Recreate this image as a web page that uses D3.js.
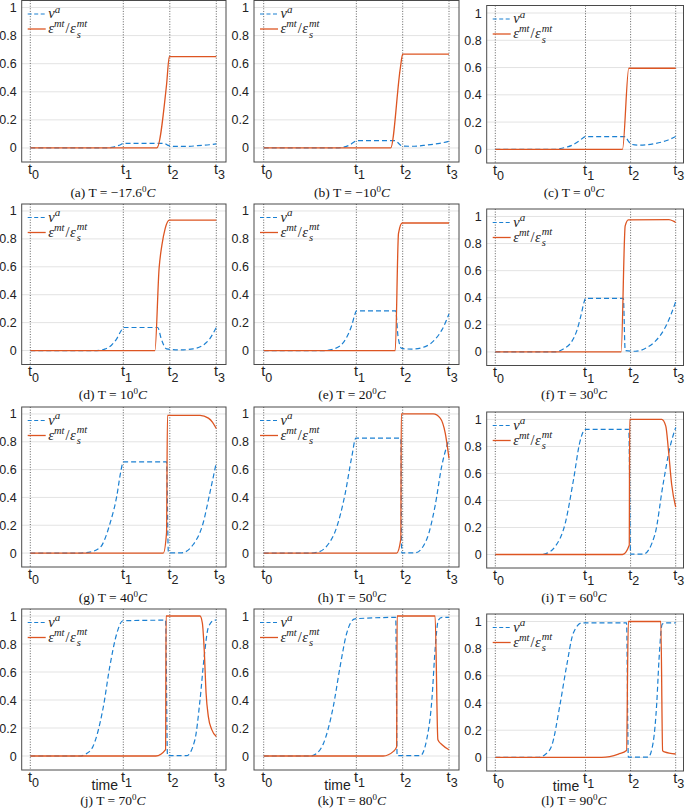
<!DOCTYPE html>
<html>
<head>
<meta charset="utf-8">
<script src="https://cdn.jsdelivr.net/npm/d3@7"></script>
<style>
  body { margin: 0; background: #fff; }
  svg { display: block; }
</style>
</head>
<body>
<div id="chart"></div>
<script>
// panel captions
const letters = ["a", "b", "c", "d", "e", "f", "g", "h", "i", "j", "k", "l"];
const temps = ["\u221217.6", "\u221210", "0", "10", "20", "30", "40", "50", "60", "70", "80", "90"];

// axis ticks
const tTicks = [0, 2, 3, 4];
const tSubs = ["0", "1", "2", "3"];
const yTicks = [0, 0.2, 0.4, 0.6, 0.8, 1];

// nu^a (dashed) and eps_mt / eps_s_mt (solid), as [time, value]
const nuA = [[0,0],[1.6,0],[1.75,0.004],[1.85,0.012],[1.95,0.025],[2,0.033],[2.88,0.033],[2.95,0.02],[3.03,0.012],[3.3,0.011],[3.6,0.016],[3.85,0.023],[4,0.029]];
const epsA = [[0,0],[2.72,0],[2.93,0.45],[2.99,0.65],[4,0.65]];

const nuB = [[0,0],[1.58,0],[1.72,0.006],[1.85,0.02],[1.95,0.042],[2,0.052],[2.85,0.052],[2.92,0.03],[2.99,0.014],[3.2,0.012],[3.5,0.02],[3.8,0.033],[4,0.047]];
const epsB = [[0,0],[2.74,0],[2.95,0.57],[3.0,0.668],[4,0.668]];

const nuC = [[0,0],[1.32,0],[1.5,0.01],[1.7,0.03],[1.85,0.06],[1.95,0.085],[2,0.094],[2.88,0.094],[2.95,0.06],[3.02,0.037],[3.2,0.031],[3.5,0.04],[3.8,0.065],[4,0.094]];
const epsC = [[0,0],[2.82,0],[2.96,0.595],[4,0.595]];

const nuD = [[0,0],[1.43,0],[1.6,0.01],[1.75,0.04],[1.85,0.08],[1.95,0.14],[2,0.165],[2.74,0.165],[2.82,0.08],[2.93,0.012],[3.2,0.004],[3.5,0.012],[3.7,0.035],[3.85,0.08],[4,0.165]];
const epsD = [[0,0],[2.68,0],[2.77,0.59],[2.83,0.755],[2.9,0.874],[2.99,0.935],[4,0.935]];

const nuE = [[0,0],[1.3,0],[1.5,0.01],[1.7,0.05],[1.8,0.1],[1.9,0.18],[1.97,0.26],[2,0.284],[2.85,0.284],[2.9,0.1],[2.98,0.015],[3.2,0.01],[3.5,0.03],[3.7,0.08],[3.85,0.15],[4,0.262]];
const epsE = [[0,0],[2.84,0],[2.91,0.84],[2.99,0.914],[4,0.914]];

const nuF = [[0,0],[1.32,0],[1.5,0.02],[1.7,0.08],[1.8,0.15],[1.9,0.27],[1.97,0.37],[2,0.395],[2.84,0.395],[2.88,0.01],[3.1,0.005],[3.35,0.03],[3.55,0.08],[3.75,0.17],[3.9,0.28],[4,0.371]];
const epsF = [[0,0],[2.79,0],[2.88,0.93],[2.95,0.975],[3.85,0.977],[3.95,0.965],[4,0.955]];

const nuG = [[0,0],[1.0,0],[1.25,0.005],[1.5,0.04],[1.72,0.22],[1.86,0.41],[1.94,0.575],[2,0.655],[2.93,0.655],[2.97,0.002],[3.25,0.002],[3.5,0.06],[3.72,0.22],[3.86,0.43],[4,0.65]];
const epsG = [[0,0],[2.86,0],[2.93,0.146],[2.95,0.99],[3.65,0.99],[3.83,0.97],[3.92,0.94],[4,0.895]];

const nuH = [[0,0],[1.0,0],[1.2,0.01],[1.36,0.05],[1.58,0.19],[1.76,0.43],[1.9,0.69],[1.99,0.826],[2.96,0.826],[2.98,0.002],[3.27,0.002],[3.52,0.1],[3.7,0.34],[3.84,0.62],[4,0.82]];
const epsH = [[0,0],[2.87,0],[2.96,0.1],[2.97,1.0],[3.66,1.0],[3.81,0.97],[3.92,0.86],[4,0.68]];

const nuI = [[0,0],[1.03,0],[1.15,0.01],[1.32,0.056],[1.55,0.23],[1.73,0.546],[1.88,0.84],[1.97,0.92],[2,0.927],[2.96,0.927],[3.0,0.002],[3.28,0.002],[3.54,0.15],[3.72,0.52],[3.87,0.79],[4,0.94]];
const epsI = [[0,0],[2.82,0],[2.97,0.068],[2.98,1.0],[3.69,1.0],[3.78,0.95],[3.84,0.77],[3.91,0.52],[4,0.35]];

const nuJ = [[0,0],[1.07,0],[1.2,0.015],[1.35,0.07],[1.57,0.35],[1.71,0.64],[1.86,0.875],[1.99,0.966],[2.91,0.97],[2.95,0.002],[3.36,0.002],[3.54,0.116],[3.65,0.4],[3.74,0.71],[3.83,0.92],[3.96,0.97],[4,0.97]];
const epsJ = [[0,0],[2.7,0],[2.91,0.045],[2.92,1.0],[3.65,1.0],[3.7,0.95],[3.74,0.76],[3.78,0.45],[3.83,0.28],[3.9,0.19],[4,0.14]];

const nuK = [[0,0],[1.0,0],[1.15,0.02],[1.29,0.09],[1.5,0.35],[1.65,0.64],[1.79,0.875],[1.97,0.98],[2.85,0.99],[2.88,0.002],[3.38,0.002],[3.52,0.12],[3.63,0.4],[3.7,0.76],[3.77,0.97],[3.85,0.99],[4,0.99]];
const epsK = [[0,0],[2.58,0],[2.8,0.033],[2.87,0.065],[2.88,1.0],[3.7,1.0],[3.76,0.116],[3.85,0.08],[4,0.045]];

const nuL = [[0,0],[0.95,0],[1.1,0.02],[1.25,0.085],[1.43,0.38],[1.58,0.67],[1.73,0.915],[1.92,0.99],[2.91,0.99],[2.95,0.002],[3.39,0.002],[3.5,0.11],[3.58,0.4],[3.63,0.72],[3.7,0.98],[3.78,0.99],[4,0.99]];
const epsL = [[0,0],[2.36,0],[2.73,0.024],[2.91,0.05],[2.95,1.0],[3.67,1.0],[3.71,0.05],[3.75,0.04],[4,0.025]];

const nuSeries = [nuA, nuB, nuC, nuD, nuE, nuF, nuG, nuH, nuI, nuJ, nuK, nuL];
const epsSeries = [epsA, epsB, epsC, epsD, epsE, epsF, epsG, epsH, epsI, epsJ, epsK, epsL];

// layout
const svgWidth = 685;
const svgHeight = 812;

const cols = [
    {left: 21.7, right: 226, t0: 30.3, t3: 216.3, dTop: 0, dBottom: 0, yMax: 1.05, capX: 113},
    {left: 254, right: 459, t0: 263.7, t3: 449, dTop: 0, dBottom: 0, yMax: 1.05, capX: 352},
    {left: 486.7, right: 683.5, t0: 495.3, t3: 675.7, dTop: 5, dBottom: 1, yMax: 1.055, capX: 574}
];
const rows = [
    {top: 0.5, bottom: 162},
    {top: 204, bottom: 364.5},
    {top: 407, bottom: 567},
    {top: 609, bottom: 770}
];

const blue = "#1b80d2";
const orange = "#dd5522";
const sans = "'Liberation Sans', Arial, Helvetica, sans-serif";
const serif = "'Liberation Serif', 'Times New Roman', serif";

const svg = d3.select("#chart")
    .append("svg")
    .attr("width", svgWidth)
    .attr("height", svgHeight);

letters.forEach(function(letter, i) {
    const c = cols[i % 3];
    const r = rows[Math.floor(i / 3)];
    const boxTop = r.top + c.dTop;
    const boxBottom = r.bottom + c.dBottom;

    const x = d3.scaleLinear().domain([0, 4]).range([c.t0, c.t3]);
    const y = d3.scaleLinear().domain([-0.1, c.yMax]).range([boxBottom, boxTop]);

    const g = svg.append("g");

    // horizontal grid
    g.selectAll(".grid")
        .data(yTicks)
        .enter().append("line")
        .attr("x1", c.left).attr("x2", c.right)
        .attr("y1", d => y(d)).attr("y2", d => y(d))
        .attr("stroke", "#e3e3e3")
        .attr("stroke-width", 1);

    // dotted time markers
    g.selectAll(".tline")
        .data(tTicks)
        .enter().append("line")
        .attr("x1", d => x(d)).attr("x2", d => x(d))
        .attr("y1", boxTop).attr("y2", boxBottom)
        .attr("stroke", "#3a3a3a")
        .attr("stroke-width", 0.8)
        .attr("stroke-dasharray", "1,1.6");

    const clipId = "clip" + letter;
    g.append("clipPath").attr("id", clipId)
        .append("rect")
        .attr("x", c.left).attr("y", boxTop)
        .attr("width", c.right - c.left).attr("height", boxBottom - boxTop);

    const line = d3.line()
        .x(d => x(d[0]))
        .y(d => y(d[1]))
        .curve(d3.curveMonotoneX);

    g.append("path")
        .attr("clip-path", `url(#${clipId})`)
        .attr("d", line(nuSeries[i]))
        .attr("fill", "none")
        .attr("stroke", blue)
        .attr("stroke-width", 1.2)
        .attr("stroke-dasharray", "5,3");

    g.append("path")
        .attr("clip-path", `url(#${clipId})`)
        .attr("d", line(epsSeries[i]))
        .attr("fill", "none")
        .attr("stroke", orange)
        .attr("stroke-width", 1.3);

    // box
    g.append("rect")
        .attr("x", c.left).attr("y", boxTop)
        .attr("width", c.right - c.left).attr("height", boxBottom - boxTop)
        .attr("fill", "none")
        .attr("stroke", "#4a4a4a")
        .attr("stroke-width", 1);

    // y axis labels
    const yAxis = d3.axisLeft(y)
        .tickValues(yTicks)
        .tickSize(0)
        .tickPadding(5)
        .tickFormat(d3.format("~g"));

    const ay = g.append("g")
        .attr("transform", `translate(${c.left}, 0)`)
        .call(yAxis);
    ay.select(".domain").remove();
    ay.selectAll("text")
        .attr("font-family", sans)
        .attr("font-size", 12.5)
        .attr("fill", "#222");

    // t labels
    const tl = g.selectAll(".tlab")
        .data(tTicks)
        .enter().append("text")
        .attr("x", d => x(d) - 2.4)
        .attr("y", boxBottom + 11.5)
        .attr("font-family", sans)
        .attr("font-size", 14.5)
        .attr("fill", "#222");
    tl.append("tspan").text("t");
    tl.append("tspan")
        .attr("dy", 5.5)
        .attr("font-size", 12.5)
        .text((d, k) => tSubs[k]);

    if (Math.floor(i / 3) === 3) {
        g.append("text")
            .attr("x", (c.left + c.right) / 2 - 19)
            .attr("y", boxBottom + 20)
            .attr("text-anchor", "middle")
            .attr("font-family", sans)
            .attr("font-size", 14)
            .attr("fill", "#222")
            .text("time");
    }

    // legend
    const lx = c.left + 6;
    const ly1 = boxTop + 13.5;
    const ly2 = boxTop + 28.5;
    g.append("line")
        .attr("x1", lx).attr("x2", lx + 18)
        .attr("y1", ly1).attr("y2", ly1)
        .attr("stroke", blue).attr("stroke-width", 1.2)
        .attr("stroke-dasharray", "4,2.5");
    g.append("line")
        .attr("x1", lx).attr("x2", lx + 18)
        .attr("y1", ly2).attr("y2", ly2)
        .attr("stroke", orange).attr("stroke-width", 1.3);

    const t1 = g.append("text")
        .attr("x", lx + 20.5).attr("y", ly1 + 4)
        .attr("font-family", serif)
        .attr("font-style", "italic")
        .attr("font-size", 14.5)
        .attr("fill", "#222");
    t1.append("tspan").text("\u03bd");
    t1.append("tspan").attr("dy", -5.5).attr("font-size", 11).text("a");

    // ratio label: numerator, slash, then denominator with stacked sub/sup
    const t2 = g.append("text")
        .attr("x", lx + 20.5).attr("y", ly2 + 4)
        .attr("font-family", serif)
        .attr("font-style", "italic")
        .attr("font-size", 14.5)
        .attr("fill", "#222");
    t2.append("tspan").text("\u03b5");
    t2.append("tspan").attr("dy", -6).attr("font-size", 10.5).text("mt");
    t2.append("tspan").attr("dy", 6).attr("dx", 1).attr("font-style", "normal").text("/");
    t2.append("tspan").attr("dx", 0.5).text("\u03b5");
    const subX = lx + 20.5 + 28.5;
    g.append("text")
        .attr("x", subX).attr("y", ly2 + 8.5)
        .attr("font-family", serif)
        .attr("font-style", "italic")
        .attr("font-size", 10.5)
        .attr("fill", "#222")
        .text("s");
    g.append("text")
        .attr("x", subX).attr("y", ly2 - 2.5)
        .attr("font-family", serif)
        .attr("font-style", "italic")
        .attr("font-size", 10.5)
        .attr("fill", "#222")
        .text("mt");

    // caption
    const cap = g.append("text")
        .attr("x", c.capX)
        .attr("y", r.bottom + 34.5)
        .attr("text-anchor", "middle")
        .attr("font-family", serif)
        .attr("font-size", 13.5)
        .attr("fill", "#111");
    cap.append("tspan").text(`(${letter}) T = ${temps[i]}`);
    cap.append("tspan").attr("dy", -5).attr("font-size", 9).text("0");
    cap.append("tspan").attr("dy", 5).attr("font-style", "italic").text("C");
});
</script>
</body>
</html>
